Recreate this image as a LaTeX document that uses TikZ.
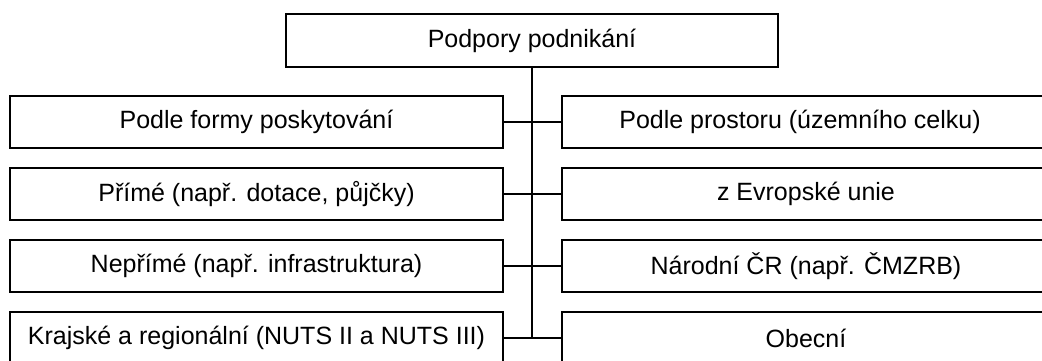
\documentclass[tikz,border=0pt]{standalone}
\usepackage{fontspec}
\setmainfont{Liberation Sans}
\begin{document}
\begin{tikzpicture}[x=1pt,y=-1pt,
  lbl/.style={font=\fontsize{25}{30}\selectfont},
  box/.style={draw=black, line width=1.6pt, fill=white, rectangle, inner sep=0pt,
    minimum height=52pt, lbl},
  leftbox/.style={box, minimum width=493pt},
  rightbox/.style={box, minimum width=498pt},
  link/.style={draw=black, line width=1.6pt}]
\useasboundingbox (0,0) rectangle (1042,360);
\clip (0,0) rectangle (1042,360);

% root
\node[box, minimum width=492pt, minimum height=53pt] (root) at (532,40.5) {Podpory podnikání};

% left column
\node[leftbox] (l1) at (256.5,122) {Podle formy poskytování};
\node[leftbox] (l2) at (256.5,194) {Přímé (např. dotace, půjčky)};
\node[leftbox] (l3) at (256.5,266) {Nepřímé (např. infrastruktura)};
\node[leftbox] (l4) at (256.5,338) {Krajské a regionální (NUTS II a NUTS III)};

% right column (runs past the right edge)
\node[rightbox] (r1) at (811,122) {};
\node[rightbox] (r2) at (811,194) {};
\node[rightbox] (r3) at (811,266) {};
\node[rightbox] (r4) at (811,338) {};
\node[lbl] (t1) at (800,122) {Podle prostoru (územního celku)};
\node[lbl] (t2) at (806,194) {z Evropské unie};
\node[lbl] (t3) at (806,266) {Národní ČR (např. ČMZRB)};
\node[lbl] (t4) at (806,338) {Obecní};

% trunk
\coordinate (bot) at (532,338);
\draw[link] (root.south) -- (bot);

% branches
\foreach \i in {1,...,4}{
  \draw[link] (l\i.east) -- (l\i.east -| root.south);
  \draw[link] (r\i.west) -- (r\i.west -| root.south);
}
\end{tikzpicture}
\end{document}
